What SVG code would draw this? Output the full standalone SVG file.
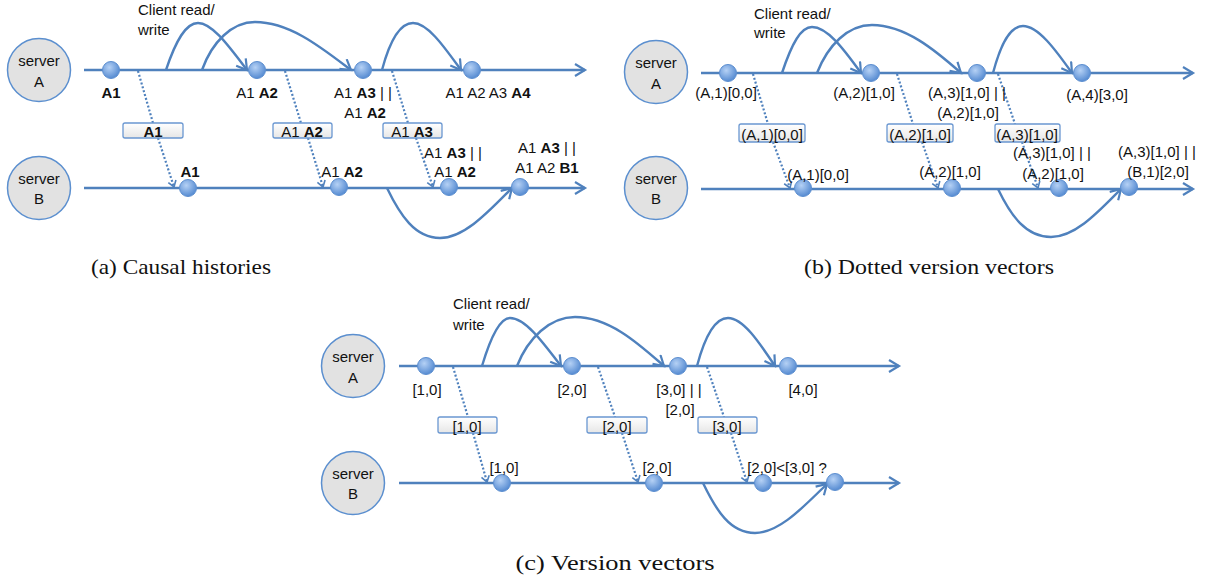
<svg xmlns="http://www.w3.org/2000/svg" width="1205" height="582" viewBox="0 0 1205 582">
<style>
text{font-family:"Liberation Sans",Arial,sans-serif;font-size:15px;fill:#111}
.m{text-anchor:middle}
.b{font-weight:bold}
.cap{font-family:"Liberation Serif","Times New Roman",serif;font-size:22px;fill:#111;text-anchor:middle}
.tl{stroke:#4f81bd;stroke-width:2.6;fill:none;marker-end:url(#ah)}
.cv{stroke:#4f81bd;stroke-width:2.4;fill:none;marker-end:url(#ah)}
.dt{stroke:#4f81bd;stroke-width:2.2;fill:none;stroke-dasharray:2 2}
.dta{stroke:#4f81bd;stroke-width:2.2;fill:none;stroke-dasharray:2 2;marker-end:url(#dh)}
.nd{fill:url(#ng);stroke:#5d8fd0;stroke-width:1}
.srv{fill:#e2e2e2;stroke:#5b8fcf;stroke-width:1.5}
.bx{fill:url(#bg);stroke:#6a97d1;stroke-width:1.3}
</style>
<defs>
<radialGradient id="ng" cx="0.4" cy="0.35" r="0.7">
<stop offset="0" stop-color="#b5d1f5"/>
<stop offset="1" stop-color="#4f86cf"/>
</radialGradient>
<linearGradient id="bg" x1="0" y1="0" x2="0" y2="1">
<stop offset="0" stop-color="#ffffff"/>
<stop offset="1" stop-color="#e6e6e6"/>
</linearGradient>
<marker id="ah" markerUnits="userSpaceOnUse" markerWidth="14" markerHeight="16" refX="11" refY="7" orient="auto">
<path d="M1,1 L11,7 L1,13" fill="none" stroke="#4f81bd" stroke-width="2.2"/>
</marker>
<marker id="dh" markerUnits="userSpaceOnUse" markerWidth="10" markerHeight="12" refX="7" refY="5" orient="auto">
<path d="M1,1 L7,5 L1,9" fill="none" stroke="#4f81bd" stroke-width="1.6"/>
</marker>
</defs>

<g id="connectors">
<!-- panel a -->
<path class="tl" d="M84,70 L585,70"/>
<path class="tl" d="M84,188 L585,188"/>
<path class="cv" d="M166,70 C176,40 186,23 198,23 C212,23 228,45 247,70"/>
<path class="cv" d="M202,70 C212,42 232,22 255,22 C290,22 322,48 351,70"/>
<path class="cv" d="M382,70 C390,40 400,23 413,23 C428,23 445,48 461,70"/>
<path class="cv" d="M387,188 C400,215 415,238 440,238 C465,238 490,210 512,188"/>
<path class="dt" d="M138,71 L153,123"/>
<path class="dta" d="M158,138 L174,187"/>
<path class="dt" d="M285,71 L301,123"/>
<path class="dta" d="M308,138 L323,187"/>
<path class="dt" d="M392,71 L408,123"/>
<path class="dta" d="M416,138 L433,187"/>
<!-- panel b -->
<path class="tl" d="M701,73 L1193,73"/>
<path class="tl" d="M701,189 L1193,189"/>
<path class="cv" d="M782,73 C792,43 801,27 812,27 C827,27 843,48 861,73"/>
<path class="cv" d="M817,73 C828,45 848,25 872,25 C905,25 935,50 961,73"/>
<path class="cv" d="M993,73 C1001,43 1010,26 1023,26 C1038,26 1055,49 1072,73"/>
<path class="cv" d="M998,189 C1011,216 1026,237 1051,237 C1076,237 1100,210 1121,189"/>
<path class="dt" d="M753,74 L768,124"/>
<path class="dta" d="M773,142 L790,188"/>
<path class="dt" d="M897,74 L913,124"/>
<path class="dta" d="M922,142 L938,188"/>
<path class="dt" d="M998,74 L1015,124"/>
<path class="dta" d="M1022,142 L1038,188"/>
<!-- panel c -->
<path class="tl" d="M399,366 L899,366"/>
<path class="tl" d="M399,483 L899,483"/>
<path class="cv" d="M482,366 C491,336 500,318 510,318 C525,318 542,341 561,366"/>
<path class="cv" d="M517,366 C528,338 550,317 575,317 C610,317 640,345 664,366"/>
<path class="cv" d="M697,366 C705,336 715,318 728,318 C743,318 759,342 775,366"/>
<path class="cv" d="M703,483 C716,510 730,533 755,533 C780,533 805,505 827,484"/>
<path class="dt" d="M453,367 L468,417"/>
<path class="dta" d="M473,433 L487,482"/>
<path class="dt" d="M598,367 L615,417"/>
<path class="dta" d="M622,433 L638,482"/>
<path class="dt" d="M707,367 L724,417"/>
<path class="dta" d="M731,433 L747,482"/>
</g>

<!-- ===== Panel (a) ===== -->
<g id="a-serverA"><circle class="srv" cx="39" cy="70" r="31.5"/><text class="m" x="39" y="66">server</text><text class="m" x="39" y="87">A</text></g>
<g id="a-serverB"><circle class="srv" cx="39" cy="188" r="31.5"/><text class="m" x="39" y="184">server</text><text class="m" x="39" y="204">B</text></g>
<g id="a-client"><text x="138" y="15">Client read/</text><text x="138" y="35">write</text></g>
<g id="a-A1"><circle class="nd" cx="111" cy="70" r="8.5"/><text class="m b" x="111" y="98">A1</text></g>
<g id="a-A2"><circle class="nd" cx="257" cy="70" r="8.5"/><text class="m" x="257" y="98">A1 <tspan class="b">A2</tspan></text></g>
<g id="a-A3"><circle class="nd" cx="363" cy="70" r="8.5"/><text class="m" x="363" y="98">A1 <tspan class="b">A3</tspan> | |</text><text class="m" x="365" y="118">A1 <tspan class="b">A2</tspan></text></g>
<g id="a-A4"><circle class="nd" cx="472" cy="70" r="8.5"/><text class="m" x="488" y="98">A1 A2 A3 <tspan class="b">A4</tspan></text></g>
<g id="a-box1"><rect class="bx" x="123" y="123" width="60" height="15" rx="2"/><text class="m b" x="153" y="136.5">A1</text></g>
<g id="a-box2"><rect class="bx" x="273" y="123" width="59" height="15" rx="2"/><text class="m" x="302" y="136.5">A1 <tspan class="b">A2</tspan></text></g>
<g id="a-box3"><rect class="bx" x="383" y="123" width="59" height="15" rx="2"/><text class="m" x="412" y="136.5">A1 <tspan class="b">A3</tspan></text></g>
<g id="a-B1"><circle class="nd" cx="188" cy="188" r="8.5"/><text class="m b" x="190" y="177">A1</text></g>
<g id="a-B2"><circle class="nd" cx="339" cy="187" r="8.5"/><text class="m" x="342" y="177">A1 <tspan class="b">A2</tspan></text></g>
<g id="a-B3"><circle class="nd" cx="449" cy="187" r="8.5"/><text class="m" x="453" y="158">A1 <tspan class="b">A3</tspan> | |</text><text class="m" x="455" y="177">A1 <tspan class="b">A2</tspan></text></g>
<g id="a-B4"><circle class="nd" cx="520" cy="187" r="8.5"/><text class="m" x="547" y="153">A1 <tspan class="b">A3</tspan> | |</text><text class="m" x="547" y="173">A1 A2 <tspan class="b">B1</tspan></text></g>
<text class="cap" x="181" y="274" textLength="180" lengthAdjust="spacingAndGlyphs">(a) Causal histories</text>

<!-- ===== Panel (b) ===== -->
<g id="b-serverA"><circle class="srv" cx="656" cy="72" r="31.5"/><text class="m" x="656" y="68">server</text><text class="m" x="656" y="89">A</text></g>
<g id="b-serverB"><circle class="srv" cx="656" cy="188" r="31.5"/><text class="m" x="656" y="184">server</text><text class="m" x="656" y="204">B</text></g>
<g id="b-client"><text x="754" y="19">Client read/</text><text x="754" y="38">write</text></g>
<g id="b-A1"><circle class="nd" cx="728" cy="73" r="8.5"/><text class="m" x="726" y="98">(A,1)[0,0]</text></g>
<g id="b-A2"><circle class="nd" cx="871" cy="73" r="8.5"/><text class="m" x="864" y="98">(A,2)[1,0]</text></g>
<g id="b-A3"><circle class="nd" cx="977" cy="73" r="8.5"/><text class="m" x="967" y="98">(A,3)[1,0] | |</text><text class="m" x="968" y="118">(A,2)[1,0]</text></g>
<g id="b-A4"><circle class="nd" cx="1082" cy="73" r="8.5"/><text class="m" x="1097" y="100">(A,4)[3,0]</text></g>
<g id="b-box1"><rect class="bx" x="739" y="124" width="66" height="18" rx="2"/><text class="m" x="772" y="139.5">(A,1)[0,0]</text></g>
<g id="b-box2"><rect class="bx" x="887" y="124" width="66" height="18" rx="2"/><text class="m" x="920" y="139.5">(A,2)[1,0]</text></g>
<g id="b-box3"><rect class="bx" x="995" y="124" width="65" height="18" rx="2"/><text class="m" x="1027" y="139.5">(A,3)[1,0]</text></g>
<g id="b-B1"><circle class="nd" cx="803" cy="188" r="8.5"/><text class="m" x="818" y="180">(A,1)[0,0]</text></g>
<g id="b-B2"><circle class="nd" cx="952" cy="188" r="8.5"/><text class="m" x="950" y="177">(A,2)[1,0]</text></g>
<g id="b-B3"><circle class="nd" cx="1059" cy="188" r="8.5"/><text class="m" x="1052" y="158">(A,3)[1,0] | |</text><text class="m" x="1053" y="179">(A,2)[1,0]</text></g>
<g id="b-B4"><circle class="nd" cx="1129" cy="187" r="8.5"/><text class="m" x="1157" y="157">(A,3)[1,0] | |</text><text class="m" x="1158" y="177">(B,1)[2,0]</text></g>
<text class="cap" x="929" y="274" textLength="250" lengthAdjust="spacingAndGlyphs">(b) Dotted version vectors</text>

<!-- ===== Panel (c) ===== -->
<g id="c-serverA"><circle class="srv" cx="353" cy="366" r="31.5"/><text class="m" x="353" y="362">server</text><text class="m" x="353" y="383">A</text></g>
<g id="c-serverB"><circle class="srv" cx="353" cy="483" r="31.5"/><text class="m" x="353" y="479">server</text><text class="m" x="353" y="499">B</text></g>
<g id="c-client"><text x="453" y="309">Client read/</text><text x="453" y="330">write</text></g>
<g id="c-A1"><circle class="nd" cx="426" cy="366" r="8.5"/><text class="m" x="427" y="395">[1,0]</text></g>
<g id="c-A2"><circle class="nd" cx="572" cy="366" r="8.5"/><text class="m" x="572" y="395">[2,0]</text></g>
<g id="c-A3"><circle class="nd" cx="678" cy="366" r="8.5"/><text class="m" x="679" y="395">[3,0] | |</text><text class="m" x="680" y="415">[2,0]</text></g>
<g id="c-A4"><circle class="nd" cx="788" cy="366" r="8.5"/><text class="m" x="803" y="395">[4,0]</text></g>
<g id="c-box1"><rect class="bx" x="438" y="417" width="59" height="16" rx="2"/><text class="m" x="467" y="431.5">[1,0]</text></g>
<g id="c-box2"><rect class="bx" x="587" y="417" width="60" height="16" rx="2"/><text class="m" x="617" y="431.5">[2,0]</text></g>
<g id="c-box3"><rect class="bx" x="698" y="417" width="59" height="16" rx="2"/><text class="m" x="727" y="431.5">[3,0]</text></g>
<g id="c-B1"><circle class="nd" cx="502" cy="483" r="8.5"/><text class="m" x="504" y="473">[1,0]</text></g>
<g id="c-B2"><circle class="nd" cx="654" cy="483" r="8.5"/><text class="m" x="657" y="473">[2,0]</text></g>
<g id="c-B3"><circle class="nd" cx="763" cy="483" r="8.5"/><text class="m" x="787" y="473">[2,0]&lt;[3,0] ?</text></g>
<g id="c-B4"><circle class="nd" cx="835" cy="482" r="8.5"/></g>
<text class="cap" x="615" y="570" textLength="199" lengthAdjust="spacingAndGlyphs">(c) Version vectors</text>
</svg>
